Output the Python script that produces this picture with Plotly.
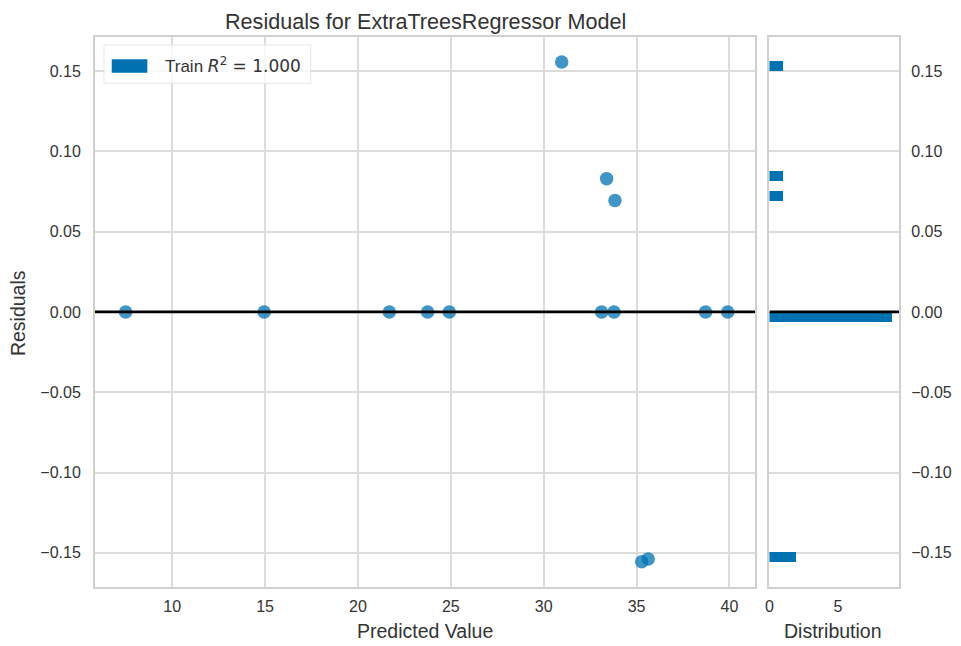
import plotly.graph_objects as go

# ---- data ----
predicted = [7.49, 14.95, 21.69, 23.75, 24.92, 30.97, 33.39, 33.84, 33.12, 33.79,
             35.28, 35.63, 38.72, 39.91]
residuals = [0.0, 0.0, 0.0, 0.0, 0.0, 0.1556, 0.0830, 0.0694, 0.0, 0.0,
             -0.1556, -0.1538, 0.0, 0.0]
train_r2 = 1.000

x_tickvals = [10, 15, 20, 25, 30, 35, 40]
x_ticktext = ["10", "15", "20", "25", "30", "35", "40"]
y_tickvals = [-0.15, -0.10, -0.05, 0.0, 0.05, 0.10, 0.15]
y_ticktext = ["\u22120.15", "\u22120.10", "\u22120.05", "0.00", "0.05", "0.10", "0.15"]
hist_tickvals = [0, 5]
hist_ticktext = ["0", "5"]

title_text = "Residuals for ExtraTreesRegressor Model"
xlabel = "Predicted Value"
ylabel = "Residuals"
hist_label = "Distribution"

# ---- styling ----
FONT = "Liberation Sans, Arial, sans-serif"
MATHFONT = "DejaVu Sans"
TXT = "#333333"
GRID = "#dcdcdc"
BORDER = "#d0d0d0"
BLUE = "#0072B2"

fig = go.Figure()

fig.add_trace(go.Scatter(
    x=predicted, y=residuals, mode="markers",
    marker=dict(color=BLUE, size=13.5, opacity=0.75, line=dict(width=0)),
    xaxis="x", yaxis="y", showlegend=False, hoverinfo="x+y",
))

fig.add_trace(go.Histogram(
    y=residuals,
    ybins=dict(start=-0.1560, end=0.1575, size=0.00625),
    marker=dict(color=BLUE, line=dict(width=0)),
    xaxis="x2", yaxis="y2", showlegend=False,
))

axis_common = dict(
    showline=True, mirror=True, linecolor=BORDER, linewidth=2,
    gridcolor=GRID, gridwidth=1.5, zeroline=False, automargin=False,
    tickfont=dict(family=FONT, size=16, color=TXT),
    ticks="outside", tickcolor="rgba(0,0,0,0)",
)

# the page adds an 8px body margin, so the figure is 8px smaller than the window
fig.update_layout(
    width=953, height=638,
    margin=dict(l=87, r=62, t=29, b=59, autoexpand=False),
    paper_bgcolor="white", plot_bgcolor="white",
    bargap=0,
    showlegend=False,
    xaxis=dict(domain=[0, 0.8209], range=[5.84, 41.38],
               tickvals=x_tickvals, ticktext=x_ticktext, ticklen=4,
               anchor="y", **axis_common),
    yaxis=dict(domain=[0, 1], range=[-0.1713, 0.1712],
               tickvals=y_tickvals, ticktext=y_ticktext, ticklen=9,
               anchor="x", **axis_common),
    xaxis2=dict(domain=[0.8389, 1], range=[0, 9.45], showgrid=False,
                tickvals=hist_tickvals, ticktext=hist_ticktext, ticklen=4,
                anchor="y2", **axis_common),
    yaxis2=dict(domain=[0, 1], range=[-0.1713, 0.1712], side="right",
                tickvals=y_tickvals, ticktext=y_ticktext, ticklen=7,
                anchor="x2", **axis_common),
)

# zero lines
fig.add_shape(type="line", xref="x", yref="y", x0=5.84, x1=41.38, y0=0, y1=0,
              line=dict(color="black", width=2.6), layer="above")
fig.add_shape(type="line", xref="x2", yref="y2", x0=0, x1=9.45, y0=0, y1=0,
              line=dict(color="black", width=2.6), layer="above")

# legend box (custom, to get the wide patch handle)
fig.add_shape(type="rect", xref="paper", yref="paper",
              x0=0.0112, x1=0.2683, y0=0.9158, y1=0.9855,
              fillcolor="rgba(255,255,255,0.8)", line=dict(color="#e6e6e6", width=1),
              layer="above")
fig.add_shape(type="rect", xref="paper", yref="paper",
              x0=0.0208, x1=0.0651, y0=0.9351, y1=0.9595,
              fillcolor=BLUE, line=dict(width=0), layer="above")
legend_text = (f"Train <span style='font-family:{MATHFONT}'><i>R</i>"
               f"<sup>2</sup> = {train_r2:.3f}</span>")
fig.add_annotation(xref="paper", yref="paper", x=0.0850, y=0.949,
                   xanchor="left", yanchor="middle", showarrow=False,
                   text=legend_text,
                   font=dict(family=FONT, size=17, color=TXT))

# titles
fig.add_annotation(xref="paper", yref="paper", x=0.4105, y=1.029,
                   xanchor="center", yanchor="middle", showarrow=False,
                   text=title_text, font=dict(family=FONT, size=21.6, color=TXT))
fig.add_annotation(xref="paper", yref="paper", x=0.4105, y=-0.080,
                   xanchor="center", yanchor="middle", showarrow=False,
                   text=xlabel, font=dict(family=FONT, size=19.5, color=TXT))
fig.add_annotation(xref="paper", yref="paper", x=0.9178, y=-0.080,
                   xanchor="center", yanchor="middle", showarrow=False,
                   text=hist_label, font=dict(family=FONT, size=19.5, color=TXT))
fig.add_annotation(xref="paper", yref="paper", x=-0.0958, y=0.498,
                   xanchor="center", yanchor="middle", showarrow=False, textangle=-90,
                   text=ylabel, font=dict(family=FONT, size=19.5, color=TXT))

fig.write_html("out.html")
